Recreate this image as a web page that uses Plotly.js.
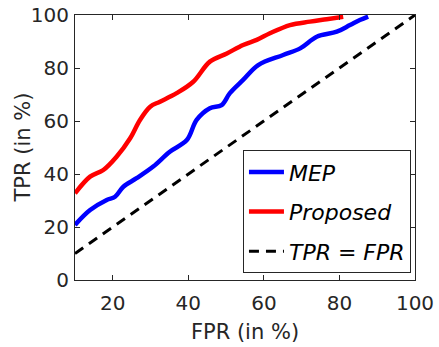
<!DOCTYPE html>
<html>
<head>
<meta charset="utf-8">
<script src="https://cdn.plot.ly/plotly-3.0.1.min.js"></script>
<style>html,body{margin:0;padding:0;background:#fff}#chart{width:439px;height:347px}</style>
</head>
<body>
<div id="chart"></div>
<script>
var mepFPR = [10, 14.0, 18.4, 20.6, 22.8, 26.3, 30.7, 35.1, 39.6, 42.2, 45.7, 48.8, 51.0, 54.5, 58.5, 65.1, 69.6, 74.0, 79.3, 82.8, 85.4, 87.6];
var mepTPR = [20.8, 26.4, 30.2, 31.4, 35.2, 38.4, 42.8, 48.4, 52.8, 60.4, 64.8, 66.0, 70.5, 75.5, 81.1, 84.9, 87.4, 91.8, 93.7, 96.2, 98.1, 99.4];
var propFPR = [10, 14.0, 17.5, 21.0, 24.6, 27.2, 29.9, 32.5, 36.9, 41.3, 45.7, 50.2, 54.5, 58.1, 61.6, 66.9, 72.2, 76.6, 81.0];
var propTPR = [32.7, 39.0, 41.5, 46.5, 53.5, 60.4, 65.4, 67.3, 70.5, 74.8, 82.4, 85.5, 88.7, 90.6, 93.1, 96.2, 97.5, 98.4, 99.3];
var diagFPR = [10, 100];
var diagTPR = [10, 100];
var xTicks = [20, 40, 60, 80, 100];
var yTicks = [0, 20, 40, 60, 80, 100];
var xTitle = 'FPR (in %)';
var yTitle = 'TPR (in %)';

var traces = [
  {x: mepFPR, y: mepTPR, name: 'MEP', mode: 'lines', legendgroup: 'a',
   line: {color: '#0000ff', width: 4.5, shape: 'spline', smoothing: 1}},
  {x: propFPR, y: propTPR, name: 'Proposed', mode: 'lines', legendgroup: 'b',
   line: {color: '#ff0000', width: 4.5, shape: 'spline', smoothing: 1}},
  {x: diagFPR, y: diagTPR, name: 'TPR = FPR', mode: 'lines', legendgroup: 'c',
   line: {color: '#000000', width: 3, dash: '10px,7px'}}
];

var axCommon = {
  showgrid: false, zeroline: false, showline: true, mirror: 'ticks',
  linecolor: '#262626', linewidth: 1, ticks: 'inside', ticklen: 5, tickwidth: 1,
  tickcolor: '#262626', tickfont: {family: 'DejaVu Sans', size: 20, color: '#262626'}
};

var layout = {
  width: 439, height: 347,
  margin: {l: 75, r: 24, t: 15, b: 67},
  paper_bgcolor: '#ffffff', plot_bgcolor: '#ffffff',
  font: {family: 'DejaVu Sans', color: '#262626'},
  xaxis: Object.assign({}, axCommon, {
    range: [10, 100], tickvals: xTicks, ticktext: xTicks.map(String),
    ticklabelstandoff: 5,
    title: {text: xTitle, font: {family: 'DejaVu Sans', size: 21, color: '#262626'}, standoff: 10}
  }),
  yaxis: Object.assign({}, axCommon, {
    range: [0, 100], tickvals: yTicks, ticktext: yTicks.map(String),
    ticklabelstandoff: 1
  }),
  annotations: [{
    text: yTitle, xref: 'paper', yref: 'paper', x: -0.153, y: 0.5,
    xanchor: 'center', yanchor: 'middle', textangle: -90, showarrow: false,
    font: {family: 'DejaVu Sans', size: 21, color: '#262626'}
  }],
  showlegend: true,
  legend: {
    x: 0.494, y: 0.49, xanchor: 'left', yanchor: 'top',
    bgcolor: '#ffffff', bordercolor: '#262626', borderwidth: 1,
    font: {family: 'DejaVu Sans', size: 22, color: '#000000', style: 'italic'},
    tracegroupgap: 8, itemwidth: 35, traceorder: 'grouped'
  }
};

Plotly.newPlot('chart', traces, layout, {displayModeBar: false, staticPlot: true});
</script>
</body>
</html>
